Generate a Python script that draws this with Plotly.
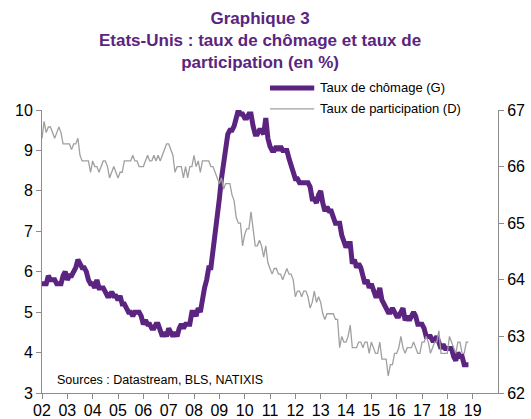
import plotly.graph_objects as go

start_year = 2002
# US unemployment rate, monthly, Jan 2002 - Nov 2018 (%)
unemployment = [
    5.7, 5.7, 5.7, 5.9, 5.8, 5.8, 5.8, 5.7, 5.7, 5.7, 5.9, 6.0,   # 2002
    5.8, 5.9, 5.9, 6.0, 6.1, 6.3, 6.2, 6.1, 6.1, 6.0, 5.8, 5.7,   # 2003
    5.7, 5.6, 5.8, 5.6, 5.6, 5.6, 5.5, 5.4, 5.4, 5.5, 5.4, 5.4,   # 2004
    5.3, 5.4, 5.2, 5.2, 5.1, 5.0, 5.0, 4.9, 5.0, 5.0, 5.0, 4.9,   # 2005
    4.7, 4.8, 4.7, 4.7, 4.6, 4.6, 4.7, 4.7, 4.5, 4.4, 4.5, 4.4,   # 2006
    4.6, 4.5, 4.4, 4.5, 4.4, 4.6, 4.7, 4.6, 4.7, 4.7, 4.7, 5.0,   # 2007
    5.0, 4.9, 5.1, 5.0, 5.4, 5.6, 5.8, 6.1, 6.1, 6.5, 6.8, 7.3,   # 2008
    7.8, 8.3, 8.7, 9.0, 9.4, 9.5, 9.5, 9.6, 9.8, 10.0, 9.9, 9.9,  # 2009
    9.8, 9.8, 9.9, 9.9, 9.6, 9.4, 9.4, 9.5, 9.5, 9.4, 9.8, 9.3,   # 2010
    9.1, 9.0, 9.0, 9.1, 9.0, 9.1, 9.0, 9.0, 9.0, 8.8, 8.6, 8.5,   # 2011
    8.3, 8.3, 8.2, 8.2, 8.2, 8.2, 8.2, 8.1, 7.8, 7.8, 7.7, 7.9,   # 2012
    8.0, 7.7, 7.5, 7.6, 7.5, 7.5, 7.3, 7.2, 7.2, 7.2, 6.9, 6.7,   # 2013
    6.6, 6.7, 6.7, 6.2, 6.3, 6.1, 6.2, 6.1, 5.9, 5.7, 5.8, 5.6,   # 2014
    5.7, 5.5, 5.4, 5.4, 5.6, 5.3, 5.2, 5.1, 5.0, 5.0, 5.1, 5.0,   # 2015
    4.9, 4.9, 5.0, 5.1, 4.8, 4.9, 4.8, 4.9, 5.0, 4.9, 4.7, 4.7,   # 2016
    4.7, 4.6, 4.4, 4.4, 4.4, 4.3, 4.3, 4.4, 4.2, 4.1, 4.2, 4.1,   # 2017
    4.1, 4.1, 4.1, 3.9, 3.8, 4.0, 3.9, 3.9, 3.7, 3.7, 3.7,        # 2018
]
# US labour force participation rate, monthly, Jan 2002 - Nov 2018 (%)
participation = [
    66.5, 66.8, 66.6, 66.7, 66.7, 66.6, 66.5, 66.6, 66.7, 66.6, 66.4, 66.4,  # 2002
    66.4, 66.4, 66.3, 66.4, 66.4, 66.5, 66.2, 66.1, 66.1, 66.1, 66.1, 65.9,  # 2003
    66.1, 66.0, 66.0, 65.9, 66.0, 66.1, 66.1, 66.0, 65.8, 65.9, 66.0, 65.9,  # 2004
    65.8, 65.9, 65.9, 66.1, 66.1, 66.1, 66.1, 66.2, 66.1, 66.1, 66.0, 66.0,  # 2005
    66.0, 66.1, 66.2, 66.1, 66.1, 66.2, 66.1, 66.2, 66.1, 66.2, 66.3, 66.4,  # 2006
    66.4, 66.3, 66.2, 65.9, 66.0, 66.0, 66.0, 65.8, 66.0, 65.8, 66.0, 66.0,  # 2007
    66.2, 66.0, 66.1, 65.9, 66.1, 66.1, 66.1, 66.1, 66.0, 66.0, 65.9, 65.8,  # 2008
    65.7, 65.8, 65.6, 65.7, 65.7, 65.7, 65.5, 65.4, 65.1, 65.0, 65.0, 64.6,  # 2009
    64.8, 64.9, 64.9, 65.2, 64.9, 64.6, 64.6, 64.7, 64.6, 64.4, 64.6, 64.3,  # 2010
    64.2, 64.1, 64.2, 64.2, 64.1, 64.1, 64.0, 64.1, 64.2, 64.1, 64.1, 64.0,  # 2011
    63.7, 63.8, 63.8, 63.7, 63.8, 63.8, 63.7, 63.5, 63.6, 63.8, 63.6, 63.7,  # 2012
    63.6, 63.4, 63.3, 63.4, 63.4, 63.4, 63.4, 63.3, 63.3, 62.8, 63.0, 62.9,  # 2013
    62.9, 63.0, 63.2, 62.8, 62.8, 62.8, 62.9, 62.9, 62.8, 62.9, 62.9, 62.7,  # 2014
    62.9, 62.8, 62.7, 62.7, 62.9, 62.6, 62.6, 62.6, 62.3, 62.5, 62.5, 62.7,  # 2015
    62.7, 62.8, 63.0, 62.8, 62.7, 62.8, 62.8, 62.8, 62.9, 62.8, 62.7, 62.7,  # 2016
    62.9, 62.9, 63.0, 62.9, 62.7, 62.8, 62.9, 62.9, 63.1, 62.7, 62.7, 62.7,  # 2017
    62.7, 63.0, 62.9, 62.8, 62.7, 62.9, 62.9, 62.7, 62.7, 62.9, 62.9,        # 2018
]
tick_years = list(range(2002, 2020))
tick_labels = [f"{y % 100:02d}" for y in tick_years]
series_names = ["Taux de chômage (G)", "Taux de participation (D)"]

x_u = [start_year + i / 12 for i in range(len(unemployment))]
x_p = [start_year + i / 12 for i in range(len(participation))]

PURPLE = "#5b2481"
GREY = "#a0a0a0"
AXIS = "#8c8c8c"
FONT = "Liberation Sans, Arial, sans-serif"

fig = go.Figure()
fig.add_trace(go.Scatter(
    x=x_u, y=unemployment, mode="lines", name=series_names[0],
    line=dict(color=PURPLE, width=5), yaxis="y", showlegend=False))
fig.add_trace(go.Scatter(
    x=x_p, y=participation, mode="lines", name=series_names[1],
    line=dict(color=GREY, width=1.3), yaxis="y2", showlegend=False))

# manual legend (paper coordinates)
legend_items = [(series_names[0], PURPLE, 5, 1.078), (series_names[1], GREY, 1.3, 1.004)]
shapes = []
annotations = []
for name, col, w, ly in legend_items:
    shapes.append(dict(type="line", xref="paper", yref="paper",
                       x0=0.50, x1=0.597, y0=ly, y1=ly,
                       line=dict(color=col, width=w)))
    annotations.append(dict(text=name, xref="paper", yref="paper",
                            x=0.606, y=ly, xanchor="left", yanchor="middle",
                            showarrow=False,
                            font=dict(family=FONT, size=13, color="black")))

annotations.append(dict(
    text="<b>Graphique 3<br>Etats-Unis : taux de chômage et taux de<br>participation (en %)</b>",
    xref="paper", yref="paper", x=0.478, y=1.365, xanchor="center", yanchor="top",
    showarrow=False, align="center",
    font=dict(family=FONT, size=17, color=PURPLE)))
annotations.append(dict(
    text="Sources : Datastream, BLS, NATIXIS", xref="paper", yref="paper",
    x=0.028, y=0.046, xanchor="left", yanchor="middle", showarrow=False,
    font=dict(family=FONT, size=12.5, color="black")))

axis_common = dict(showgrid=False, zeroline=False, showline=True, linecolor=AXIS,
                   linewidth=1, ticks="outside", ticklen=5, tickcolor=AXIS,
                   tickfont=dict(size=16, color="black"), automargin=False)

fig.update_layout(
    width=531, height=419,
    margin=dict(l=42, r=33, t=110, b=26),
    paper_bgcolor="white", plot_bgcolor="white",
    font=dict(family=FONT, color="black"),
    showlegend=False,
    xaxis=dict(range=[2002, 2020], tickvals=tick_years, ticktext=tick_labels,
               ticklabelstandoff=-2, **axis_common),
    yaxis=dict(range=[3, 10], dtick=1, **axis_common),
    yaxis2=dict(range=[62, 67], dtick=1, overlaying="y", side="right",
                **axis_common),
    shapes=shapes,
    annotations=annotations,
)

fig.write_html(
    "out.html",
    config={"displayModeBar": False},
    post_script="document.documentElement.style.margin='0';"
                "document.body.style.margin='0';"
                "document.body.style.overflow='hidden';",
)
